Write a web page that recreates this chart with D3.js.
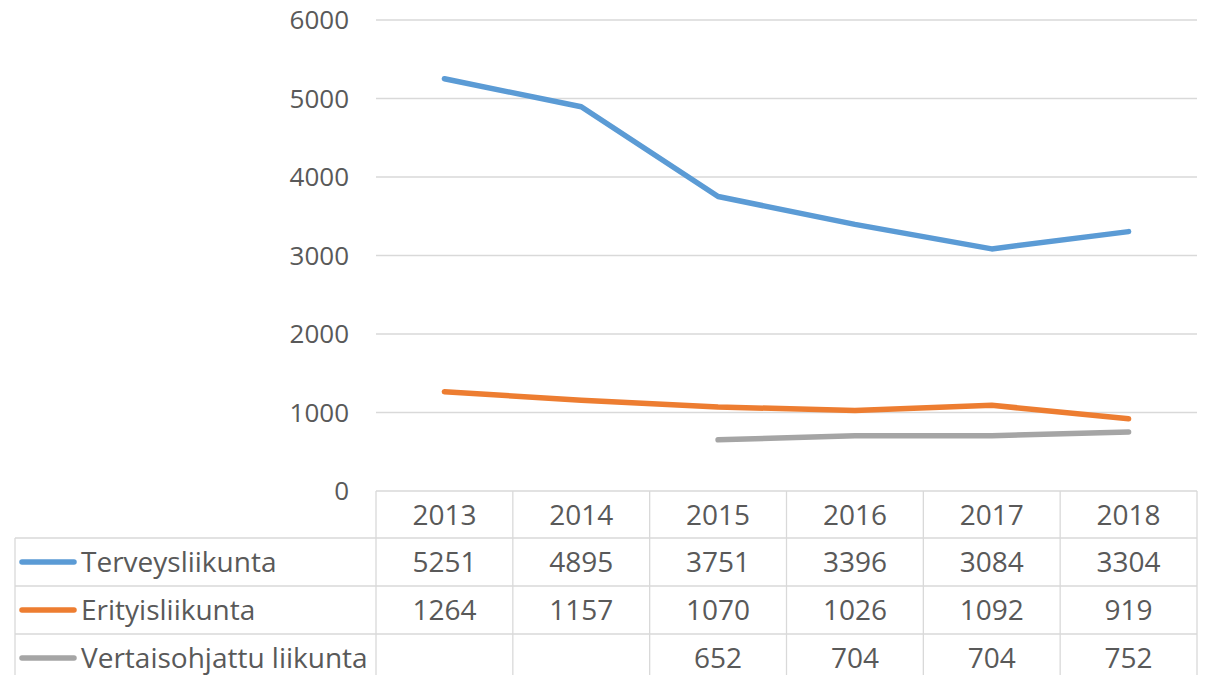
<!DOCTYPE html>
<html>
<head>
<meta charset="utf-8">
<script src="https://cdn.jsdelivr.net/npm/d3@7"></script>
<style>
  body { margin: 0; background: #fff; }
  svg { display: block; }
</style>
</head>
<body>
<div id="chart"></div>
<script>
const years = ["2013", "2014", "2015", "2016", "2017", "2018"];
const terveys = [5251, 4895, 3751, 3396, 3084, 3304];
const erityis = [1264, 1157, 1070, 1026, 1092, 919];
const vertais = [null, null, 652, 704, 704, 752];
const yTicks = [0, 1000, 2000, 3000, 4000, 5000, 6000];

const series = [
  { name: "Terveysliikunta", values: terveys, color: "#5B9BD5" },
  { name: "Erityisliikunta", values: erityis, color: "#ED7D31" },
  { name: "Vertaisohjattu liikunta", values: vertais, color: "#A5A5A5" }
];

const width = 1221, height = 675;
const plot = { left: 376, right: 1197, top: 20, bottom: 491 };
const rowH = 48, headerH = 47, labelLeft = 15;
const font = "'Open Sans', sans-serif";
const textColor = "#595959";
const gridColor = "#D9D9D9";

const svg = d3.select("#chart").append("svg")
  .attr("width", width)
  .attr("height", height);

// --- SCALES ---
const x = d3.scaleBand()
  .domain(years)
  .range([plot.left, plot.right]);

const y = d3.scaleLinear()
  .domain([0, 6000])
  .range([plot.bottom, plot.top]);

// --- GRID + Y LABELS ---
svg.append("g")
  .selectAll("line")
  .data(yTicks.filter(d => d > 0))
  .enter()
  .append("line")
  .attr("x1", plot.left)
  .attr("x2", plot.right)
  .attr("y1", d => y(d))
  .attr("y2", d => y(d))
  .attr("stroke", gridColor)
  .attr("stroke-width", 1.3);

svg.append("g")
  .selectAll("text")
  .data(yTicks)
  .enter()
  .append("text")
  .attr("x", 349)
  .attr("y", d => y(d))
  .attr("dy", "0.35em")
  .attr("text-anchor", "end")
  .style("font-family", font)
  .style("font-size", "26px")
  .style("fill", textColor)
  .text(d => d);

// --- LINES ---
const line = d3.line()
  .defined(d => d.v != null)
  .x(d => x(d.year) + x.bandwidth() / 2)
  .y(d => y(d.v));

series.forEach(s => {
  svg.append("path")
    .datum(years.map((yr, i) => ({ year: yr, v: s.values[i] })))
    .attr("d", line)
    .attr("fill", "none")
    .attr("stroke", s.color)
    .attr("stroke-width", 5.5)
    .attr("stroke-linecap", "round")
    .attr("stroke-linejoin", "round");
});

// --- DATA TABLE ---
const table = svg.append("g");
const tableBottom = plot.bottom + headerH + rowH * series.length;
const tableFont = "28px";

// horizontal lines
table.append("line")
  .attr("x1", plot.left).attr("x2", plot.right)
  .attr("y1", plot.bottom).attr("y2", plot.bottom)
  .attr("stroke", gridColor).attr("stroke-width", 1.3);

series.forEach((s, i) => {
  const yy = plot.bottom + headerH + rowH * i;
  table.append("line")
    .attr("x1", labelLeft).attr("x2", plot.right)
    .attr("y1", yy).attr("y2", yy)
    .attr("stroke", gridColor).attr("stroke-width", 1.3);
});

// vertical lines
const vx = years.map(d => x(d)).concat([plot.right]);
vx.forEach(xx => {
  table.append("line")
    .attr("x1", xx).attr("x2", xx)
    .attr("y1", plot.bottom).attr("y2", tableBottom)
    .attr("stroke", gridColor).attr("stroke-width", 1.3);
});
table.append("line")
  .attr("x1", labelLeft).attr("x2", labelLeft)
  .attr("y1", plot.bottom + headerH).attr("y2", tableBottom)
  .attr("stroke", gridColor).attr("stroke-width", 1.3);

// header
table.selectAll(".hdr")
  .data(years)
  .enter()
  .append("text")
  .attr("class", "hdr")
  .attr("x", d => x(d) + x.bandwidth() / 2)
  .attr("y", plot.bottom + headerH / 2 + 1)
  .attr("dy", "0.35em")
  .attr("text-anchor", "middle")
  .style("font-family", font)
  .style("font-size", tableFont)
  .style("fill", textColor)
  .text(d => d);

// rows
series.forEach((s, i) => {
  const cy = plot.bottom + headerH + rowH * i + rowH / 2;

  table.append("line")
    .attr("x1", 22).attr("x2", 74)
    .attr("y1", cy).attr("y2", cy)
    .attr("stroke", s.color)
    .attr("stroke-width", 5.5)
    .attr("stroke-linecap", "round");

  table.append("text")
    .attr("x", 81)
    .attr("y", cy)
    .attr("dy", "0.35em")
    .style("font-family", font)
    .style("font-size", tableFont)
    .style("fill", textColor)
    .text(s.name);

  table.selectAll(".v" + i)
    .data(years.map((yr, j) => ({ year: yr, v: s.values[j] })).filter(d => d.v != null))
    .enter()
    .append("text")
    .attr("x", d => x(d.year) + x.bandwidth() / 2)
    .attr("y", cy)
    .attr("dy", "0.35em")
    .attr("text-anchor", "middle")
    .style("font-family", font)
    .style("font-size", tableFont)
    .style("fill", textColor)
    .text(d => d.v);
});
</script>
</body>
</html>
